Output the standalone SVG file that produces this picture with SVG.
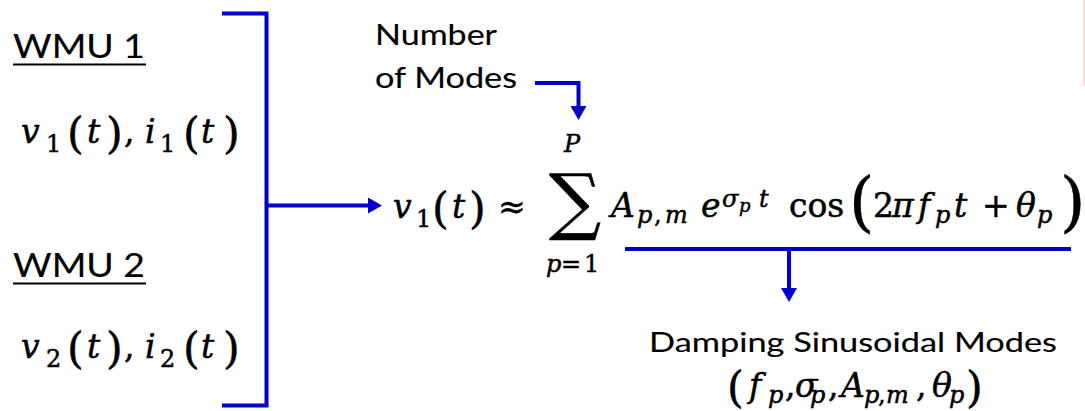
<svg xmlns="http://www.w3.org/2000/svg" width="1085" height="411" viewBox="0 0 1085 411">
<style>
.t{font-family:Lato,"Liberation Sans",sans-serif;fill:#000;stroke:#000;stroke-width:0.15}
.m{font-family:"DejaVu Serif","Liberation Serif",serif;font-size:33px;fill:#000;stroke:#000;stroke-width:0.5}
.i{font-style:italic}
.s{font-size:24px}
.ss{font-size:18px}
.p{font-size:43px}
.bp{font-size:65px}
.c{fill:none;stroke:#0000CC;stroke-width:4}
</style>
<defs>
<marker id="ah" viewBox="0 0 14 16" refX="0" refY="8" markerWidth="14" markerHeight="16" markerUnits="userSpaceOnUse" orient="auto">
<path d="M0,0 L14,8 L0,16 z" fill="#0000CC"/>
</marker>
</defs>
<rect width="1085" height="411" fill="#fff"/>
<rect x="1083" y="0" width="2" height="86" fill="#fbdcdc"/>

<g id="connectors">
<path class="c" d="M222,13.5 H266.5 V405.5 H222"/>
<path class="c" d="M266.5,205.5 H368" marker-end="url(#ah)"/>
<path class="c" d="M535,83 H578.5 V106" marker-end="url(#ah)"/>
<path class="c" d="M625,249 H1071"/>
<path class="c" d="M789,249 V288" marker-end="url(#ah)"/>
</g>

<g id="wmu1">
<text class="t" x="13" y="58" font-size="32" textLength="132" lengthAdjust="spacingAndGlyphs">WMU 1</text>
<line x1="13" y1="64.5" x2="146" y2="64.5" stroke="#000" stroke-width="2"/>
<text class="m"><tspan class="i" x="21" y="143">v</tspan><tspan class="s" x="46" y="152">1</tspan><tspan class="p" x="67" y="147.5">(</tspan><tspan class="i" x="87" y="143">t</tspan><tspan class="p" x="106" y="147.5">)</tspan><tspan x="124" y="143">,</tspan><tspan class="i" x="145" y="143">i</tspan><tspan class="s" x="160" y="152">1</tspan><tspan class="p" x="183" y="147.5">(</tspan><tspan class="i" x="201" y="143">t</tspan><tspan class="p" x="223" y="147.5">)</tspan></text>
</g>

<g id="wmu2">
<text class="t" x="13" y="277" font-size="32" textLength="132" lengthAdjust="spacingAndGlyphs">WMU 2</text>
<line x1="13" y1="283.5" x2="146" y2="283.5" stroke="#000" stroke-width="2"/>
<text class="m"><tspan class="i" x="21" y="358">v</tspan><tspan class="s" x="46" y="367">2</tspan><tspan class="p" x="67" y="362.5">(</tspan><tspan class="i" x="87" y="358">t</tspan><tspan class="p" x="106" y="362.5">)</tspan><tspan x="124" y="358">,</tspan><tspan class="i" x="145" y="358">i</tspan><tspan class="s" x="160" y="367">2</tspan><tspan class="p" x="183" y="362.5">(</tspan><tspan class="i" x="201" y="358">t</tspan><tspan class="p" x="223" y="362.5">)</tspan></text>
</g>

<g id="num-modes">
<text class="t" x="375" y="45" font-size="29" textLength="122" lengthAdjust="spacingAndGlyphs">Number</text>
<text class="t" x="375" y="88" font-size="29" textLength="142" lengthAdjust="spacingAndGlyphs">of Modes</text>
</g>

<g id="equation">
<text class="m" x="575" y="225.5" text-anchor="middle" style="font-size:73px">∑</text>
<text class="m"><tspan class="i" x="393" y="218">v</tspan><tspan class="s" x="416" y="227">1</tspan><tspan class="p" x="432" y="222.5">(</tspan><tspan class="i" x="452" y="218">t</tspan><tspan class="p" x="469" y="222.5">)</tspan><tspan x="498" y="218">≈</tspan><tspan class="s i" x="564" y="152">P</tspan><tspan class="s i" x="546" y="272">p</tspan><tspan class="s" x="561" y="272">=</tspan><tspan class="s" x="584" y="272">1</tspan><tspan class="i" x="611" y="217">A</tspan><tspan class="s i" x="637" y="223">p</tspan><tspan class="s" x="654" y="223">,</tspan><tspan class="s i" x="665" y="223">m</tspan><tspan class="i" x="701" y="217">e</tspan><tspan class="s i" x="722" y="207">σ</tspan><tspan class="ss i" x="739" y="212">p</tspan><tspan class="s i" x="759" y="207">t</tspan><tspan x="789" y="217">cos</tspan><tspan class="bp" x="849" y="224">(</tspan><tspan x="873" y="217">2</tspan><tspan class="i" x="892" y="217">π</tspan><tspan class="i" x="918" y="217">f</tspan><tspan class="s i" x="935" y="223">p</tspan><tspan class="i" x="954" y="217">t</tspan><tspan x="982" y="217">+</tspan><tspan class="i" x="1016" y="217">θ</tspan><tspan class="s i" x="1037" y="223">p</tspan><tspan class="bp" x="1060" y="224">)</tspan></text>
</g>

<g id="damping">
<text class="t" x="649" y="352" font-size="27" textLength="408" lengthAdjust="spacingAndGlyphs">Damping Sinusoidal Modes</text>
<text class="m"><tspan class="p" x="727" y="401.5">(</tspan><tspan class="i" x="749" y="397">f</tspan><tspan class="s i" x="768" y="403">p</tspan><tspan x="785" y="397">,</tspan><tspan class="i" x="795" y="397">σ</tspan><tspan class="s i" x="810" y="403">p</tspan><tspan x="828" y="397">,</tspan><tspan class="i" x="841" y="397">A</tspan><tspan class="s i" x="864" y="403">p</tspan><tspan class="s" x="878" y="403">,</tspan><tspan class="s i" x="886" y="403">m</tspan><tspan x="916" y="397">,</tspan><tspan class="i" x="932" y="397">θ</tspan><tspan class="s i" x="949" y="403">p</tspan><tspan class="p" x="966" y="401.5">)</tspan></text>
</g>
</svg>
